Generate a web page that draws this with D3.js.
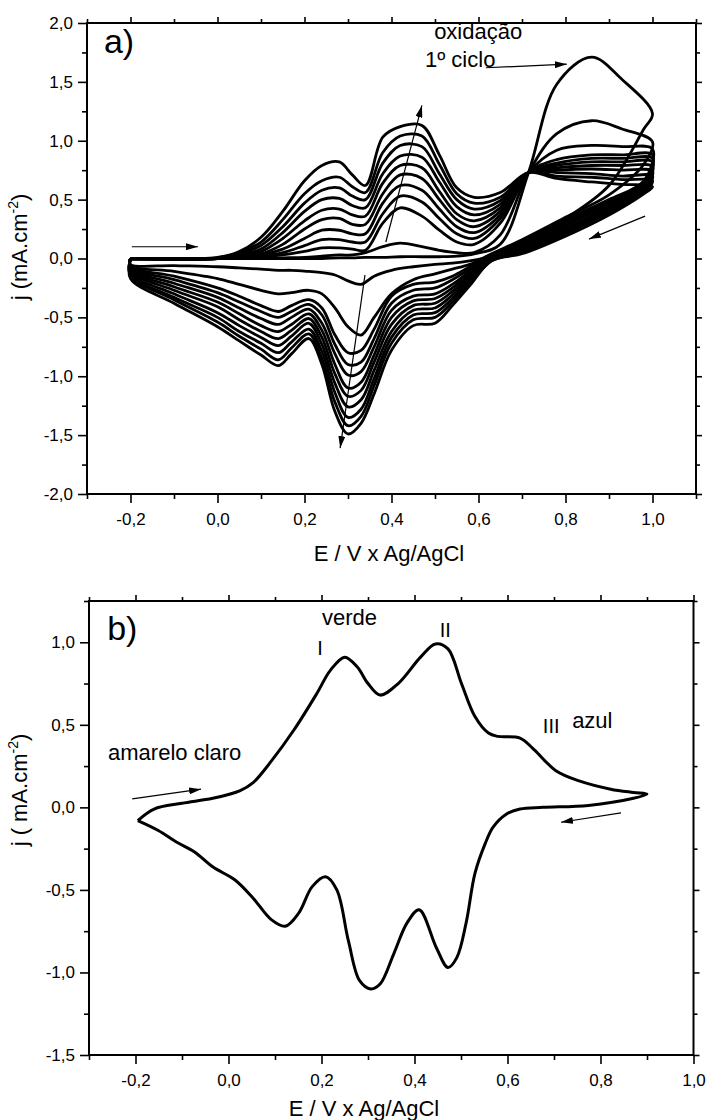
<!DOCTYPE html>
<html>
<head>
<meta charset="utf-8">
<script src="https://cdnjs.cloudflare.com/ajax/libs/d3/7.8.5/d3.min.js"></script>
<style>
  body { margin: 0; background: #fff; }
  text { font-family: "Liberation Sans", Arial, sans-serif; fill: #000; }
</style>
</head>
<body>
<svg id="fig" width="711" height="1120"></svg>
<script>
// ---- panel a) : successive cycles, potential grid of each sweep ----
const anodicE = [-0.2, 0.0, 0.05, 0.1, 0.15, 0.2, 0.24, 0.28, 0.31, 0.34, 0.38, 0.42, 0.47, 0.51, 0.55, 0.59, 0.65, 0.715, 0.78, 0.86, 0.93, 1.0];
const cathodicE = [0.98, 0.9, 0.8, 0.7, 0.63, 0.58, 0.54, 0.5, 0.45, 0.4, 0.36, 0.33, 0.3, 0.27, 0.24, 0.21, 0.17, 0.14, 0.1, 0.05, 0.0, -0.1, -0.2];

// current density (mA/cm2), one row per cycle, 1st cycle first
const anodicJ = [
  [0, 0, 0, 0, 0, 0, 0, 0.005, 0.005, 0.01, 0.01, 0.015, 0.015, 0.015, 0.02, 0.04, 0.12, 0.73, 1.48, 1.71, 1.52, 1.23],
  [0, 0, 0, 0, 0.005, 0.01, 0.02, 0.03, 0.03, 0.05, 0.1, 0.13, 0.1, 0.07, 0.05, 0.05, 0.2, 0.73, 1.06, 1.17, 1.1, 0.99],
  [0, 0, 0, 0.01, 0.03, 0.06, 0.09, 0.09, 0.08, 0.07, 0.3, 0.43, 0.36, 0.24, 0.14, 0.12, 0.3, 0.73, 0.92, 0.96, 0.95, 0.93],
  [0, 0, 0.005, 0.02, 0.05, 0.11, 0.16, 0.16, 0.14, 0.14, 0.38, 0.53, 0.48, 0.34, 0.21, 0.17, 0.34, 0.73, 0.84, 0.88, 0.88, 0.88],
  [0, 0, 0.01, 0.03, 0.08, 0.17, 0.24, 0.24, 0.21, 0.21, 0.47, 0.62, 0.58, 0.42, 0.27, 0.22, 0.37, 0.73, 0.81, 0.85, 0.85, 0.85],
  [0, 0, 0.015, 0.04, 0.12, 0.25, 0.33, 0.34, 0.29, 0.29, 0.55, 0.71, 0.68, 0.5, 0.33, 0.27, 0.4, 0.73, 0.79, 0.82, 0.82, 0.82],
  [0, 0, 0.02, 0.06, 0.17, 0.32, 0.41, 0.42, 0.37, 0.36, 0.64, 0.79, 0.77, 0.57, 0.38, 0.32, 0.43, 0.73, 0.77, 0.79, 0.79, 0.78],
  [0, 0, 0.03, 0.08, 0.22, 0.4, 0.5, 0.51, 0.45, 0.43, 0.72, 0.87, 0.86, 0.65, 0.44, 0.37, 0.46, 0.73, 0.75, 0.76, 0.75, 0.74],
  [0, 0, 0.04, 0.11, 0.27, 0.47, 0.58, 0.6, 0.53, 0.5, 0.81, 0.96, 0.95, 0.72, 0.5, 0.42, 0.49, 0.73, 0.73, 0.72, 0.7, 0.7],
  [0, 0.005, 0.05, 0.14, 0.33, 0.55, 0.66, 0.69, 0.61, 0.56, 0.9, 1.04, 1.04, 0.8, 0.55, 0.47, 0.52, 0.73, 0.7, 0.69, 0.67, 0.66],
  [0, 0.01, 0.06, 0.18, 0.4, 0.66, 0.79, 0.82, 0.71, 0.62, 1.03, 1.12, 1.13, 0.88, 0.6, 0.52, 0.56, 0.73, 0.68, 0.65, 0.63, 0.61]
];
const cathodicJ = [
  [1.1, 0.62, 0.34, 0.13, 0.02, -0.02, -0.04, -0.05, -0.07, -0.1, -0.15, -0.22, -0.19, -0.14, -0.12, -0.11, -0.1, -0.1, -0.09, -0.08, -0.07, -0.06, -0.05],
  [0.8, 0.54, 0.35, 0.16, 0.04, -0.05, -0.09, -0.13, -0.18, -0.3, -0.5, -0.65, -0.58, -0.42, -0.3, -0.27, -0.29, -0.3, -0.27, -0.22, -0.17, -0.11, -0.06],
  [0.66, 0.5, 0.33, 0.15, 0.03, -0.07, -0.15, -0.2, -0.22, -0.32, -0.6, -0.78, -0.8, -0.65, -0.42, -0.35, -0.4, -0.45, -0.4, -0.32, -0.25, -0.15, -0.07],
  [0.64, 0.48, 0.31, 0.13, 0.02, -0.09, -0.18, -0.25, -0.27, -0.38, -0.68, -0.88, -0.9, -0.73, -0.48, -0.39, -0.45, -0.5, -0.45, -0.37, -0.29, -0.18, -0.08],
  [0.63, 0.47, 0.29, 0.12, 0.01, -0.11, -0.22, -0.3, -0.32, -0.44, -0.75, -0.96, -0.99, -0.81, -0.55, -0.43, -0.5, -0.56, -0.51, -0.42, -0.33, -0.21, -0.09],
  [0.61, 0.45, 0.28, 0.1, 0.0, -0.13, -0.25, -0.34, -0.36, -0.5, -0.82, -1.05, -1.1, -0.9, -0.61, -0.47, -0.56, -0.62, -0.57, -0.47, -0.37, -0.24, -0.1],
  [0.6, 0.43, 0.26, 0.09, 0.0, -0.15, -0.28, -0.38, -0.4, -0.56, -0.88, -1.12, -1.17, -0.98, -0.67, -0.51, -0.61, -0.68, -0.62, -0.52, -0.41, -0.27, -0.11],
  [0.59, 0.42, 0.24, 0.08, -0.01, -0.17, -0.31, -0.42, -0.44, -0.62, -0.95, -1.2, -1.26, -1.06, -0.73, -0.55, -0.66, -0.74, -0.67, -0.57, -0.46, -0.3, -0.13],
  [0.57, 0.4, 0.23, 0.06, -0.01, -0.19, -0.34, -0.46, -0.48, -0.67, -1.02, -1.28, -1.35, -1.14, -0.79, -0.6, -0.71, -0.8, -0.72, -0.62, -0.5, -0.33, -0.14],
  [0.56, 0.39, 0.21, 0.05, -0.02, -0.21, -0.37, -0.5, -0.52, -0.72, -1.08, -1.34, -1.42, -1.22, -0.85, -0.64, -0.76, -0.86, -0.77, -0.66, -0.54, -0.35, -0.15],
  [0.55, 0.37, 0.19, 0.04, -0.02, -0.23, -0.4, -0.55, -0.57, -0.78, -1.15, -1.4, -1.49, -1.3, -0.9, -0.68, -0.81, -0.91, -0.82, -0.7, -0.58, -0.38, -0.17]
];

// ---- panel b) : one stabilised cycle, read along the loop ----
const loopE = [-0.195, -0.16, -0.1, -0.034, 0.024, 0.053, 0.092, 0.141, 0.19, 0.219, 0.25, 0.277, 0.3, 0.326, 0.365, 0.413, 0.445, 0.472, 0.501, 0.53, 0.559, 0.579, 0.627, 0.657, 0.705, 0.754, 0.822, 0.871, 0.9,
  0.871, 0.774, 0.676, 0.627, 0.598, 0.569, 0.552, 0.53, 0.511, 0.491, 0.472, 0.447, 0.41, 0.384, 0.355, 0.326, 0.306, 0.282, 0.258, 0.233, 0.209, 0.18, 0.151, 0.122, 0.092, 0.053, 0.014, -0.034, -0.073, -0.112, -0.151, -0.195];
const loopJ = [-0.08, -0.01, 0.025, 0.055, 0.1, 0.15, 0.28, 0.47, 0.69, 0.83, 0.91, 0.85, 0.75, 0.68, 0.75, 0.91, 0.99, 0.96, 0.75, 0.55, 0.45, 0.43, 0.42, 0.35, 0.22, 0.16, 0.11, 0.09, 0.08,
  0.055, 0.012, 0.0, -0.01, -0.04, -0.12, -0.22, -0.4, -0.7, -0.91, -0.97, -0.85, -0.62, -0.7, -0.89, -1.07, -1.1, -1.05, -0.81, -0.5, -0.42, -0.48, -0.64, -0.72, -0.68, -0.55, -0.44, -0.36, -0.27, -0.21, -0.14, -0.08];

// ---- ticks ----
const topXTicks = [-0.2, 0.0, 0.2, 0.4, 0.6, 0.8, 1.0];
const topYTicks = [-2.0, -1.5, -1.0, -0.5, 0.0, 0.5, 1.0, 1.5, 2.0];
const botXTicks = [-0.2, 0.0, 0.2, 0.4, 0.6, 0.8, 1.0];
const botYTicks = [-1.5, -1.0, -0.5, 0.0, 0.5, 1.0];

const fmt = d3.formatLocale({decimal: ",", thousands: ".", grouping: [3], currency: ["", ""], minus: "-"}).format(".1f");

const svg = d3.select("#fig");
svg.append("defs").append("marker")
  .attr("id", "ah").attr("viewBox", "0 0 12 7").attr("refX", 12).attr("refY", 3.5)
  .attr("markerWidth", 12).attr("markerHeight", 7).attr("markerUnits", "userSpaceOnUse")
  .attr("orient", "auto")
  .append("path").attr("d", "M0,0L12,3.5L0,7Z").attr("fill", "#000");

// frame with ticks on all four sides, labels left/bottom
function frame(x, y, xMajor, xMinor, yMajor, yMinor) {
  const [x0, x1] = x.range(), [y0, y1] = y.range();
  const g = svg.append("g");
  const put = (axis, t) => {
    const a = g.append("g").attr("transform", t).call(axis);
    a.select(".domain").remove();
    a.selectAll("line").attr("stroke-width", 1.6);
    a.selectAll("text").attr("font-size", 17).attr("font-family", "Liberation Sans, Arial, sans-serif");
  };
  put(d3.axisBottom(x).tickValues(xMajor).tickSize(9).tickPadding(10).tickFormat(fmt), `translate(0,${y0})`);
  put(d3.axisBottom(x).tickValues(xMinor).tickSize(5).tickFormat(""), `translate(0,${y0})`);
  put(d3.axisTop(x).tickValues(xMajor).tickSize(6).tickFormat(""), `translate(0,${y1})`);
  put(d3.axisTop(x).tickValues(xMinor).tickSize(4).tickFormat(""), `translate(0,${y1})`);
  put(d3.axisLeft(y).tickValues(yMajor).tickSize(9).tickPadding(5).tickFormat(fmt), `translate(${x0},0)`);
  put(d3.axisLeft(y).tickValues(yMinor).tickSize(5).tickFormat(""), `translate(${x0},0)`);
  put(d3.axisRight(y).tickValues(yMajor).tickSize(6).tickFormat(""), `translate(${x1},0)`);
  put(d3.axisRight(y).tickValues(yMinor).tickSize(4).tickFormat(""), `translate(${x1},0)`);
  g.append("rect").attr("x", x0).attr("y", y1).attr("width", x1 - x0).attr("height", y0 - y1)
    .attr("fill", "none").attr("stroke", "#000").attr("stroke-width", 2);
}

function txt(x, y, s, size, anchor) {
  return svg.append("text").attr("x", x).attr("y", y).attr("font-size", size)
    .attr("text-anchor", anchor || "start").text(s);
}
function arrow(x1, y1, x2, y2) {
  svg.append("line").attr("x1", x1).attr("y1", y1).attr("x2", x2).attr("y2", y2)
    .attr("stroke", "#000").attr("stroke-width", 1.2).attr("marker-end", "url(#ah)");
}
function ylabel(cx, cy, pre) {
  const t = svg.append("text").attr("transform", `translate(${cx},${cy}) rotate(-90)`)
    .attr("text-anchor", "middle").attr("font-size", 22);
  t.append("tspan").text(pre);
  t.append("tspan").attr("dy", -9).attr("font-size", 14).text("-2");
  t.append("tspan").attr("dy", 9).text(")");
}

const curve = d3.curveCatmullRom.alpha(0.5);

// ================= panel a) =================
const xA = d3.scaleLinear([-0.3, 1.1], [87, 696]);
const yA = d3.scaleLinear([-2, 2], [494, 23]);
frame(xA, yA, topXTicks, d3.range(-0.3, 1.15, 0.1).filter(v => Math.abs(Math.round(v * 10) % 2) === 1),
  topYTicks, d3.range(-1.75, 2, 0.5));

const lineA = d3.line().x(d => xA(d[0])).y(d => yA(d[1])).curve(curve);
anodicJ.forEach((row, i) => {
  const pts = anodicE.map((e, k) => [e, row[k]])
    .concat(cathodicE.map((e, k) => [e, cathodicJ[i][k]]));
  pts.push([anodicE[0], row[0]]);
  svg.append("path").attr("d", lineA(pts)).attr("fill", "none")
    .attr("stroke", "#000").attr("stroke-width", 2.8).attr("stroke-linejoin", "round");
});

txt(xA(-0.261), yA(1.745), "a)", 34);
txt(xA(0.498), yA(1.86), "oxidação", 22);
txt(xA(0.477), yA(1.626), "1º ciclo", 22);
arrow(xA(0.617), yA(1.62), xA(0.803), yA(1.65));
arrow(xA(0.387), yA(0.14), xA(0.47), yA(1.3));
arrow(xA(0.339), yA(-0.14), xA(0.282), yA(-1.61));
arrow(xA(-0.197), yA(0.1), xA(-0.045), yA(0.1));
arrow(xA(0.983), yA(0.36), xA(0.854), yA(0.165));

txt(389, 561, "E / V x Ag/AgCl", 22, "middle");
ylabel(27, 247, "j (mA.cm");

// ================= panel b) =================
const xB = d3.scaleLinear([-0.3, 1.0], [89, 693.5]);
const yB = d3.scaleLinear([-1.5, 1.25], [1055, 601]);
frame(xB, yB, botXTicks, d3.range(-0.3, 1.05, 0.1).filter(v => Math.abs(Math.round(v * 10) % 2) === 1),
  botYTicks, d3.range(-1.25, 1.3, 0.5));

const lineB = d3.line().x(d => xB(d[0])).y(d => yB(d[1])).curve(curve);
svg.append("path").attr("d", lineB(loopE.map((e, k) => [e, loopJ[k]])))
  .attr("fill", "none").attr("stroke", "#000").attr("stroke-width", 3).attr("stroke-linejoin", "round");

txt(xB(-0.261), yB(1.014), "b)", 34);
txt(xB(0.201), yB(1.105), "verde", 22);
txt(xB(0.197), yB(0.923), "I", 20, "middle");
txt(xB(0.466), yB(1.03), "II", 20, "middle");
txt(xB(0.676), yB(0.45), "III", 20);
txt(xB(0.739), yB(0.48), "azul", 22);
txt(xB(-0.259), yB(0.287), "amarelo claro", 22);
arrow(xB(-0.207), yB(0.051), xB(-0.059), yB(0.11));
arrow(xB(0.844), yB(-0.033), xB(0.715), yB(-0.09));

txt(364, 1116, "E / V x Ag/AgCl", 22, "middle");
ylabel(27, 790, "j ( mA.cm");
</script>
</body>
</html>
